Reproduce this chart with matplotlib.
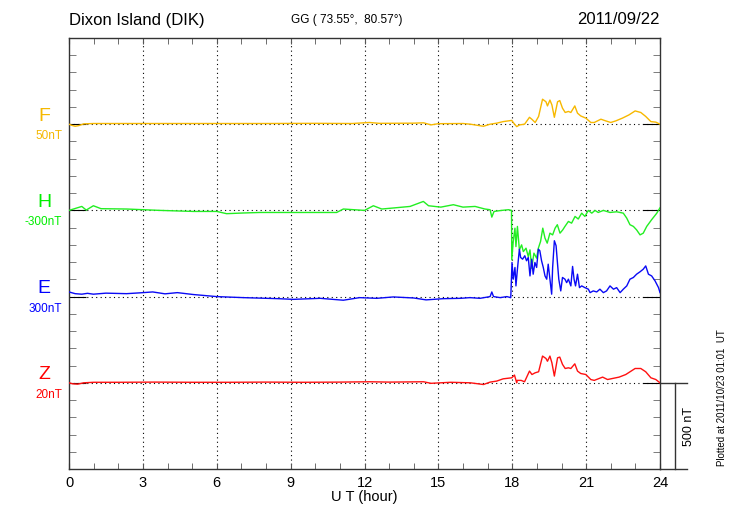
import numpy as np
import matplotlib
matplotlib.use('Agg')
import matplotlib.pyplot as plt

plt.rcParams['font.family'] = ['Liberation Sans', 'DejaVu Sans']

# Dixon Island (DIK) magnetogram, 2011/09/22
# deviations are in plot nT (scale bar = 500 nT)

f_t = [0.0, 0.1, 0.25, 0.4, 0.6, 1.0, 2.0, 4.0, 6.0, 8.0, 10.0, 11.5, 12.2, 12.6, 14.0, 14.4,
       14.7, 15.0, 16.0, 16.3, 16.83, 17.1, 17.37, 17.63, 17.98, 18.05, 18.18, 18.3, 18.5, 18.7,
       18.8, 18.93, 19.07, 19.23, 19.37, 19.43, 19.53, 19.61, 19.71, 19.84, 19.93, 20.04, 20.15,
       20.28, 20.38, 20.54, 20.65, 20.78, 20.99, 21.19, 21.33, 21.6, 21.8, 22.0, 22.2, 22.47,
       22.74, 22.99, 23.22, 23.42, 23.63, 23.83, 24.0]
f_dev = [0, -6, -12, -8, 2, 4, 4, 4, 4, 4, 5, 4, 10, 5, 6, 8,
         -4, 3, 4, 0, -12, 0, 6, 15, 22, 8, -14, -4, 0, 40,
         28, 10, 45, 145, 130, 106, 140, 112, 40, 130, 137, 93, 68,
         74, 68, 106, 64, 48, 35, 10, 10, 29, 19, 10, 19, 35,
         54, 77, 68, 45, 15, 12, 0]

h_t = [0.0, 0.52, 0.7, 0.99, 1.3, 2.34, 3.7, 5.05, 6.0, 6.4, 7.08, 7.76, 9.11, 10.87, 11.14,
       12.0, 12.36, 12.7, 13.17, 13.85, 14.39, 14.6, 15.1, 15.61, 16.0, 16.49, 16.89, 17.1,
       17.17, 17.26, 17.57, 17.85, 17.97, 17.98, 18.04, 18.11, 18.15, 18.21, 18.29, 18.38,
       18.45, 18.56, 18.65, 18.72, 18.79, 18.88, 18.99, 19.06, 19.15, 19.24, 19.33, 19.42,
       19.53, 19.64, 19.74, 19.83, 19.94, 20.05, 20.14, 20.28, 20.41, 20.55, 20.68, 20.82,
       20.95, 21.09, 21.23, 21.36, 21.49, 21.7, 21.97, 22.24, 22.51, 22.65, 22.78, 22.92,
       23.05, 23.19, 23.32, 23.46, 23.66, 23.87, 24.0]
h_dev = [0, 23, 2, 27, 10, 8, 0, -6, -6, -19, -15, -12, -12, -12, 8,
         0, 27, 8, 14, 23, 52, 27, 19, 33, 19, 23, 8, 4,
         -39, -6, 0, 4, 0, -287, -180, -103, -210, -93, -229, -200,
         -239, -219, -268, -229, -336, -248, -277, -219, -180, -103, -161, -190,
         -132, -142, -103, -83, -132, -113, -93, -64, -74, -35, -50, -16,
         -35, 0, -16, 0, -12, 0, -12, -8, -16, -45, -83, -93,
         -113, -142, -132, -93, -54, -16, 15]

e_t = [0.0, 0.25, 0.52, 0.75, 0.99, 1.5, 2.34, 2.9, 3.4, 3.9, 4.4, 5.05, 6.0, 7.08, 8.5, 9.11,
       10.2, 11.14, 11.8, 12.5, 13.17, 14.0, 14.5, 15.2, 15.9, 16.28, 16.69, 17.1, 17.17,
       17.24, 17.51, 17.78, 17.94, 17.99, 18.04, 18.11, 18.15,
       18.21, 18.29, 18.34, 18.42, 18.51, 18.58, 18.65, 18.72, 18.79, 18.85, 18.92, 18.99,
       19.06, 19.12, 19.19, 19.26, 19.33, 19.4, 19.46, 19.53, 19.6, 19.64, 19.71, 19.78, 19.84,
       19.89, 19.97, 20.04, 20.14, 20.21, 20.28, 20.38, 20.45, 20.51, 20.57, 20.65,
       20.73, 20.82, 20.95, 21.09, 21.16, 21.29, 21.43, 21.56, 21.7, 21.83, 21.97, 22.11,
       22.24, 22.38, 22.51, 22.65, 22.78, 22.92, 23.05, 23.19, 23.32, 23.42, 23.53, 23.66,
       23.8, 23.94, 24.0]
e_dev = [27, 17, 14, 19, 14, 20, 17, 22, 27, 16, 23, 12, 0, -6, -12, -16,
         -10, -21, -6, -10, -2, -8, -19, -12, -10, -6, -10, 0, 27,
         0, -6, 0, -6, 198, 101, 169, 62,
         159, 275, 227, 217, 237, 208, 227, 120, 217, 130, 198, 169,
         275, 266, 208, 169, 120, 101, 188, 101, 14, 169, 324, 295, 188,
         101, 33, 111, 101, 81, 101, 62, 175, 101, 62, 130,
         52, 62, 52, 43, 23, 33, 27, 43, 23, 33, 62, 43,
         52, 23, 43, 62, 101, 111, 130, 144, 159, 178, 130, 120,
         91, 52, 23]

z_t = [0.0, 0.15, 0.35, 0.6, 1.0, 2.0, 3.5, 5.0, 6.5, 8.0, 9.5, 11.0, 12.2, 13.0, 14.4, 14.7,
       15.5, 16.3, 16.83, 17.1, 17.37, 17.63, 17.98, 18.09, 18.18, 18.2, 18.36, 18.5, 18.7,
       18.8, 18.93, 19.07, 19.23, 19.37, 19.43, 19.53, 19.61, 19.71, 19.84, 19.93, 20.04, 20.15,
       20.28, 20.38, 20.54, 20.65, 20.78, 20.99, 21.19, 21.33, 21.67, 21.87, 22.07, 22.34,
       22.61, 22.99, 23.22, 23.42, 23.63, 23.83, 24.0]
z_dev = [0, -6, -8, 0, 3, 3, 4, 3, 3, 4, 3, 4, 6, 4, 6, -3,
         3, 0, -10, 4, 10, 23, 29, 45, 0, 14, 14, 6, 68,
         48, 58, 64, 155, 141, 125, 155, 116, 39, 145, 149, 107, 83,
         87, 83, 110, 68, 54, 48, 19, 14, 33, 19, 25, 33,
         48, 83, 83, 64, 29, 19, 0]

traces = ['F', 'H', 'E', 'Z']
scales = ['50nT', '-300nT', '300nT', '20nT']
colors = ['#F7B800', '#22EE22', '#0A0AF5', '#FF1010']
label_colors = ['#F5B800', '#00EE00', '#0000FF', '#FF0000']
baselines = [2000, 1500, 1000, 500]

fig = plt.figure(figsize=(7.3, 5.2), dpi=100)
ax = fig.add_axes([69 / 730, 1 - 469 / 520, 591 / 730, 431 / 520])

# grid lines
for x in range(3, 24, 3):
    ax.axvline(x, color='black', lw=0.8, ls=(0, (1, 3)), zorder=1)
for b in baselines:
    ax.axhline(b, color='black', lw=0.8, ls=(0, (1, 3)), zorder=1)

data = [(f_t, f_dev), (h_t, h_dev), (e_t, e_dev), (z_t, z_dev)]
for (t, d), b, c in zip(data, baselines, colors):
    ax.plot(t, b + np.array(d), color=c, lw=1.0, zorder=3)

ax.set_xlim(0, 24)
ax.set_ylim(0, 2500)
ax.set_xticks(range(0, 25, 3))
ax.set_xticklabels([str(h) for h in range(0, 25, 3)], fontsize=10.5)
ax.set_xticks(range(0, 25), minor=True)
ax.set_yticks(baselines)
ax.set_yticklabels([])
ax.set_yticks(range(0, 2501, 100), minor=True)
ax.tick_params(axis='x', which='both', direction='in', top=True, bottom=True, length=4,
               color='#555555', pad=5)
ax.tick_params(axis='y', which='major', direction='in', left=True, right=True, length=12,
               color='black')
ax.tick_params(axis='y', which='minor', direction='in', left=True, right=True, length=5,
               color='#666666')
for s in ax.spines.values():
    s.set_color('#333333')
    s.set_linewidth(1.0)
ax.set_xlabel('U T (hour)', fontsize=10.5, labelpad=0)

# channel labels
for name, sc, b, lc in zip(traces, scales, baselines, label_colors):
    yname = ax.transData.transform((0, b))[1]
    fig.text(44 / 730, (yname + 8) / 520, name, color=lc, fontsize=14, ha='center', va='center')
    fig.text(62 / 730, (yname - 12) / 520, sc, color=lc, fontsize=8.5, ha='right', va='center')

# title line
fig.text(69 / 730, 1 - 20 / 520, 'Dixon Island (DIK)', fontsize=12, ha='left', va='center')
fig.text(347 / 730, 1 - 20 / 520, 'GG ( 73.55°,  80.57°)', fontsize=8.5, ha='center', va='center')
fig.text(660 / 730, 1 - 20 / 520, '2011/09/22', fontsize=12, ha='right', va='center')

# 500 nT scale bar
ax.plot([24, 25.1], [500, 500], color='#333333', lw=1.0, clip_on=False)
ax.plot([24, 25.1], [0, 0], color='#333333', lw=1.0, clip_on=False)
ax.plot([24.6, 24.6], [0, 500], color='#333333', lw=1.0, clip_on=False)
fig.text(689 / 730, 1 - 427 / 520, '500 nT', fontsize=9, rotation=90, ha='center', va='center')
fig.text(722 / 730, 1 - 398 / 520, 'Plotted at 2011/10/23 01:01  UT', fontsize=7,
         rotation=90, ha='center', va='center')

plt.savefig('out.png', dpi=100)
